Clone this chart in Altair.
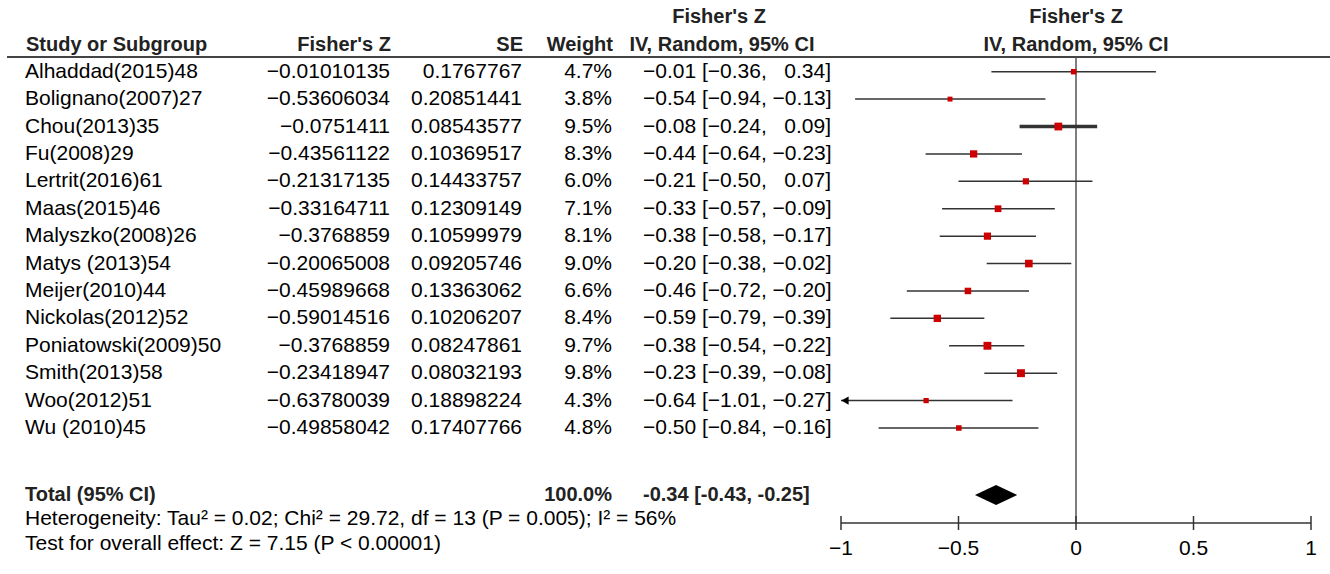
import altair as alt
import pandas as pd

# ---------------- data ----------------
studies = ["Alhaddad(2015)48", "Bolignano(2007)27", "Chou(2013)35", "Fu(2008)29",
           "Lertrit(2016)61", "Maas(2015)46", "Malyszko(2008)26", "Matys (2013)54",
           "Meijer(2010)44", "Nickolas(2012)52", "Poniatowski(2009)50", "Smith(2013)58",
           "Woo(2012)51", "Wu (2010)45"]
fisher_z = [-0.01010135, -0.53606034, -0.0751411, -0.43561122, -0.21317135, -0.33164711,
            -0.3768859, -0.20065008, -0.45989668, -0.59014516, -0.3768859, -0.23418947,
            -0.63780039, -0.49858042]
se = [0.1767767, 0.20851441, 0.08543577, 0.10369517, 0.14433757, 0.12309149, 0.10599979,
      0.09205746, 0.13363062, 0.10206207, 0.08247861, 0.08032193, 0.18898224, 0.17407766]
weight = [4.7, 3.8, 9.5, 8.3, 6.0, 7.1, 8.1, 9.0, 6.6, 8.4, 9.7, 9.8, 4.3, 4.8]
est = [-0.01, -0.54, -0.08, -0.44, -0.21, -0.33, -0.38, -0.20, -0.46, -0.59, -0.38, -0.23, -0.64, -0.50]
ci_low = [-0.36, -0.94, -0.24, -0.64, -0.50, -0.57, -0.58, -0.38, -0.72, -0.79, -0.54, -0.39, -1.01, -0.84]
ci_high = [0.34, -0.13, 0.09, -0.23, 0.07, -0.09, -0.17, -0.02, -0.20, -0.39, -0.22, -0.08, -0.27, -0.16]

total_weight = 100.0
total_est, total_lo, total_hi = -0.34, -0.43, -0.25
heterogeneity = "Heterogeneity: Tau² = 0.02; Chi² = 29.72, df = 13 (P = 0.005); I² = 56%"
overall = "Test for overall effect: Z = 7.15 (P < 0.00001)"

tick_values = [-1, -0.5, 0, 0.5, 1]
tick_labels = ["−1", "−0.5", "0", "0.5", "1"]

# ---------------- helpers ----------------
FONT = "Liberation Sans, Arial, sans-serif"
FS = 21
MINUS = "−"


def num(v):
    return str(v).replace("-", MINUS)


def two(v, pad=False):
    s = f"{v:.2f}"
    if v < 0:
        return s.replace("-", MINUS)
    return ("\u2007" + s) if pad else s


df = pd.DataFrame({
    "study": studies,
    "z": fisher_z,
    "se": se,
    "weight": weight,
    "est": est,
    "lo": ci_low,
    "hi": ci_high,
})
df["row"] = range(len(df))
df["z_txt"] = [num(v) for v in fisher_z]
df["se_txt"] = [num(v) for v in se]
df["w_txt"] = [f"{w:.1f}%" for w in weight]
df["ci_txt"] = [f"{two(e)} [{two(l)}, {two(h, pad=True)}]" for e, l, h in zip(est, ci_low, ci_high)]

ROW0, ROW13 = 71.7, 428.0
x_scale = alt.Scale(domain=[-1, 1], range=[841, 1311], zero=False, nice=False)
y_scale = alt.Scale(domain=[0, 13], range=[ROW0, ROW13], zero=False, nice=False)

X = lambda f: alt.X(f, scale=x_scale, axis=None)
Y = lambda f: alt.Y(f, scale=y_scale, axis=None)

base = alt.Chart(df)


def col_text(field, x, align):
    return base.mark_text(align=align, baseline="middle", font=FONT, fontSize=FS,
                          color="black").encode(x=alt.value(x), y=Y("row:Q"), text=f"{field}:N")


def label(s, x, y, align="left", size=FS, weight="normal", color="black"):
    return alt.Chart(pd.DataFrame({"t": [s]})).mark_text(
        align=align, baseline="middle", font=FONT, fontSize=size, fontWeight=weight,
        color=color).encode(x=alt.value(x), y=alt.value(y), text="t:N")


layers = []

HDR = "#222"
# headers
layers += [
    label("Fisher's Z", 719, 17, align="center", size=20, weight="bold", color=HDR),
    label("Fisher's Z", 1076, 17, align="center", size=20, weight="bold", color=HDR),
    label("Study or Subgroup", 26, 45, size=20, weight="bold", color=HDR),
    label("Fisher's Z", 391, 45, align="right", size=20, weight="bold", color=HDR),
    label("SE", 523, 45, align="right", size=20, weight="bold", color=HDR),
    label("Weight", 613, 45, align="right", size=20, weight="bold", color=HDR),
    label("IV, Random, 95% CI", 722, 45, align="center", size=20, weight="bold", color=HDR),
    label("IV, Random, 95% CI", 1076, 45, align="center", size=20, weight="bold", color=HDR),
]
# header underline
layers.append(alt.Chart(pd.DataFrame({"a": [0]})).mark_rule(color="#444", strokeWidth=2).encode(
    x=alt.value(7), x2=alt.value(1330), y=alt.value(57)))

# table columns
layers += [
    col_text("study", 25, "left"),
    col_text("z_txt", 390, "right"),
    col_text("se_txt", 522, "right"),
    col_text("w_txt", 612, "right"),
    col_text("ci_txt", 643, "left"),
]

TOTAL_Y = 495
AXIS_Y = 523
# total row & footers
layers += [
    label("Total (95% CI)", 25, TOTAL_Y, size=20, weight="bold", color=HDR),
    label(f"{total_weight:.1f}%", 612, TOTAL_Y, align="right", size=20, weight="bold", color=HDR),
    label(f"{total_est:.2f} [{total_lo:.2f}, {total_hi:.2f}]", 643, TOTAL_Y, size=20, weight="bold", color=HDR),
    label(heterogeneity, 25, 519),
    label(overall, 25, 544),
]

# zero line
layers.append(alt.Chart(pd.DataFrame({"v": [0]})).mark_rule(color="#555", strokeWidth=1.5).encode(
    x=X("v:Q"), y=alt.value(57), y2=alt.value(AXIS_Y)))

# CI lines
ci = base.transform_calculate(lo_c="max(datum.lo, -1)", hi_c="min(datum.hi, 1)")
layers.append(ci.mark_rule(color="#333").encode(
    x=X("lo_c:Q"), x2="hi_c:Q", y=Y("row:Q"),
    strokeWidth=alt.condition(alt.datum.study == "Chou(2013)35", alt.value(3.5), alt.value(1.5))))

# arrow for truncated CIs
layers.append(base.transform_filter("datum.lo < -1").transform_calculate(edge="-1").mark_point(
    shape="triangle-left", filled=True, color="black", opacity=1, size=70, xOffset=4).encode(
    x=X("edge:Q"), y=Y("row:Q")))

# squares
layers.append(base.mark_square(color="#CC0000", opacity=1).encode(
    x=X("z:Q"), y=Y("row:Q"),
    size=alt.Size("weight:Q", scale=alt.Scale(domain=[0, 10], range=[0, 64]), legend=None)))

# diamond (pixel half-height expressed in row units)
row_px = (ROW13 - ROW0) / 13
TR = (TOTAL_Y - ROW0) / row_px
half = 10 / row_px
dia = pd.DataFrame({"x": [total_lo, total_est, total_hi],
                    "top": [TR, TR - half, TR], "bot": [TR, TR + half, TR]})
layers.append(alt.Chart(dia).mark_area(color="black", opacity=1).encode(
    x=X("x:Q"), y=Y("top:Q"), y2="bot:Q"))

# x axis (drawn from tick arrays)
tick_df = pd.DataFrame({"v": tick_values, "lab": tick_labels})
layers.append(alt.Chart(pd.DataFrame({"a": [tick_values[0]], "b": [tick_values[-1]]})).mark_rule(
    color="#333", strokeWidth=1.5).encode(x=X("a:Q"), x2="b:Q", y=alt.value(AXIS_Y)))
layers.append(alt.Chart(tick_df).mark_rule(color="#333", strokeWidth=1.5).encode(
    x=X("v:Q"), y=alt.value(AXIS_Y - 7), y2=alt.value(AXIS_Y + 7)))
layers.append(alt.Chart(tick_df).mark_text(font=FONT, fontSize=FS, color="black", baseline="middle").encode(
    x=X("v:Q"), y=alt.value(AXIS_Y + 26), text="lab:N"))

chart = alt.layer(*layers).properties(
    width=1330, height=574, padding=0,
    autosize=alt.AutoSizeParams(type="none"),
    background="white",
).configure_view(stroke=None)

chart.save("out.html", embed_options={"renderer": "svg", "actions": False})
